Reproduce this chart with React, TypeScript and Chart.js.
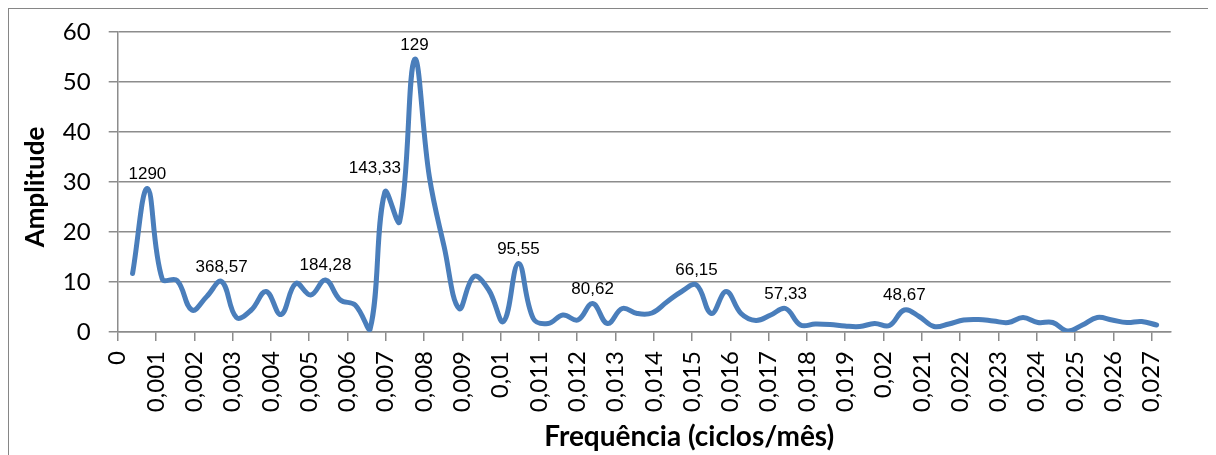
import { useEffect, useRef } from 'react';
import { Chart, registerables } from 'chart.js';

Chart.register(...registerables);

// Frequencies (ciclos/mês): harmonic grid k / 2580, k = 1..70
const frequencies = [
  0.000388, 0.000775, 0.001163, 0.00155, 0.001938, 0.002326, 0.002713, 0.003101, 0.003488, 0.003876,
  0.004264, 0.004651, 0.005039, 0.005426, 0.005814, 0.006202, 0.006589, 0.006977, 0.007364, 0.007752,
  0.00814, 0.008527, 0.008915, 0.009302, 0.00969, 0.010078, 0.010465, 0.010853, 0.01124, 0.011628,
  0.012016, 0.012403, 0.012791, 0.013178, 0.013566, 0.013953, 0.014341, 0.014729, 0.015116, 0.015504,
  0.015891, 0.016279, 0.016667, 0.017054, 0.017442, 0.017829, 0.018217, 0.018605, 0.018992, 0.01938,
  0.019767, 0.020155, 0.020543, 0.02093, 0.021318, 0.021705, 0.022093, 0.022481, 0.022868, 0.023256,
  0.023643, 0.024031, 0.024419, 0.024806, 0.025194, 0.025581, 0.025969, 0.026357, 0.026744, 0.027132,
];

const amplitudes = [
  11.7, 28.7, 10.6, 10.3, 4.4, 7.1, 10.1, 2.9, 4.4, 8.1,
  3.5, 9.7, 7.4, 10.4, 6.4, 5.4, 0.5, 28.0, 22.1, 54.5,
  31.0, 17.0, 4.7, 11.1, 8.4, 2.1, 13.7, 2.7, 1.7, 3.4,
  2.4, 5.7, 1.7, 4.7, 3.7, 3.8, 6.0, 8.1, 9.4, 3.7,
  8.1, 3.7, 2.3, 3.4, 4.7, 1.4, 1.6, 1.5, 1.2, 1.1,
  1.7, 1.3, 4.4, 3.1, 1.1, 1.6, 2.4, 2.5, 2.2, 1.9,
  2.9, 1.9, 1.9, 0.2, 1.4, 2.9, 2.4, 1.9, 2.1, 1.4,
];

// Period labels (meses) shown above selected peaks
const peakIndices = [1, 6, 13, 17, 19, 26, 31, 38, 44, 52];
const peakLabels = ['1290', '368,57', '184,28', '143,33', '129', '95,55', '80,62', '66,15', '57,33', '48,67'];

const xTickLabels = [
  '0', '0,001', '0,002', '0,003', '0,004', '0,005', '0,006', '0,007', '0,008', '0,009',
  '0,01', '0,011', '0,012', '0,013', '0,014', '0,015', '0,016', '0,017', '0,018', '0,019',
  '0,02', '0,021', '0,022', '0,023', '0,024', '0,025', '0,026', '0,027',
];
const yTickLabels = ['0', '10', '20', '30', '40', '50', '60'];

const xTitle = 'Frequência (ciclos/mês)';
const yTitle = 'Amplitude';

const GRID = '#8c8c8c';
const LINE = '#4a7ebb';

const peakLabelPlugin = {
  id: 'peakLabelPlugin',
  afterDatasetsDraw(chart: any) {
    const meta = chart.getDatasetMeta(0);
    const ctx = chart.ctx;
    ctx.save();
    ctx.font = '17px "Liberation Sans", Arial, sans-serif';
    ctx.fillStyle = '#000';
    ctx.textAlign = 'center';
    ctx.textBaseline = 'alphabetic';
    peakIndices.forEach((idx, i) => {
      const el = meta.data[idx];
      if (!el) return;
      let dx = 0;
      let dy = 0;
      if (idx === 17) { dx = -10; dy = -9; }
      ctx.fillText(peakLabels[i], el.x + dx, el.y - 10 + dy);
    });
    ctx.restore();
  },
};

const axisTitlePlugin = {
  id: 'axisTitlePlugin',
  afterDraw(chart: any) {
    const { ctx, chartArea } = chart;
    ctx.save();
    ctx.fillStyle = '#000';
    ctx.font = 'bold 26px Lato, "Open Sans", sans-serif';
    ctx.textAlign = 'center';
    ctx.textBaseline = 'middle';
    ctx.translate(27, (chartArea.top + chartArea.bottom) / 2 + 5);
    ctx.rotate(-Math.PI / 2);
    ctx.fillText(yTitle, 0, 0);
    ctx.restore();

    ctx.save();
    ctx.fillStyle = '#000';
    ctx.font = 'bold 28px Lato, "Open Sans", sans-serif';
    ctx.textAlign = 'center';
    ctx.textBaseline = 'alphabetic';
    ctx.fillText(xTitle, (chartArea.left + chartArea.right) / 2 + 45, 437);
    ctx.restore();
  },
};

export default function App() {
  const canvasRef = useRef<HTMLCanvasElement | null>(null);

  useEffect(() => {
    if (!canvasRef.current) return;
    const points = frequencies.map((f, i) => ({ x: f, y: amplitudes[i] }));
    const chart = new Chart(canvasRef.current, {
      type: 'line',
      data: {
        datasets: [
          {
            label: 'Amplitude',
            data: points,
            borderColor: LINE,
            backgroundColor: LINE,
            borderWidth: 5,
            pointRadius: 0,
            pointHoverRadius: 0,
            tension: 0.4,
            fill: false,
            borderCapStyle: 'round',
            borderJoinStyle: 'round',
          },
        ],
      },
      options: {
        animation: false,
        responsive: false,
        events: [],
        layout: { padding: { top: 23, right: 45.3, left: 0, bottom: 0 } },
        plugins: {
          legend: { display: false },
          tooltip: { enabled: false },
        },
        scales: {
          x: {
            type: 'linear',
            min: 0,
            max: 0.0275,
            afterFit: (scale: any) => {
              scale.height = 123;
              scale.paddingLeft = 0;
              scale.paddingRight = 0;
            },
            ticks: {
              stepSize: 0.001,
              includeBounds: false,
              autoSkip: false,
              maxRotation: 90,
              minRotation: 90,
              padding: 10,
              color: '#000',
              font: { family: 'Lato, "Open Sans", sans-serif', size: 24 },
              callback: (_v: any, i: number) => xTickLabels[i],
            },
            grid: {
              drawOnChartArea: false,
              drawTicks: true,
              tickLength: 9,
              color: GRID,
              lineWidth: 1.5,
            },
            border: { display: true, color: GRID, width: 1.5 },
          },
          y: {
            type: 'linear',
            min: 0,
            max: 60,
            afterFit: (scale: any) => {
              scale.width = 108.7;
              scale.paddingTop = 0;
              scale.paddingBottom = 0;
            },
            ticks: {
              stepSize: 10,
              padding: 18,
              color: '#000',
              font: { family: 'Lato, "Open Sans", sans-serif', size: 24 },
              callback: (_v: any, i: number) => yTickLabels[i],
            },
            grid: {
              drawOnChartArea: true,
              drawTicks: true,
              tickLength: 9,
              color: GRID,
              lineWidth: 1.5,
            },
            border: { display: true, color: GRID, width: 1.5 },
          },
        },
      },
      plugins: [peakLabelPlugin, axisTitlePlugin],
    } as any);
    return () => chart.destroy();
  }, []);

  return (
    <div
      style={{
        width: 1208,
        height: 447,
        boxSizing: 'border-box',
        borderLeft: '1px solid #868686',
        borderTop: '1px solid #868686',
        overflow: 'hidden',
      }}
    >
      <canvas ref={canvasRef} width={1207} height={446} style={{ display: 'block' }} />
    </div>
  );
}
